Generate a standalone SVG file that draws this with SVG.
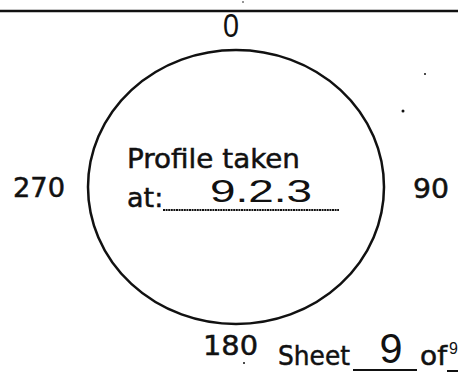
<svg xmlns="http://www.w3.org/2000/svg" width="458" height="378" viewBox="0 0 458 378">
<style>
.t{font-family:"DejaVu Sans",sans-serif;fill:#111;font-size:27px;stroke:#111;stroke-width:0.5}
.h{font-family:"Liberation Sans",sans-serif;fill:#111}
.ln{stroke:#111;fill:none}
</style>
<rect width="458" height="378" fill="#fff"/>
<g id="connectors">
<line class="ln" x1="0" y1="11" x2="458" y2="11" stroke-width="2.5"/>
<line class="ln" x1="163" y1="210" x2="339" y2="210" stroke-width="1.8" stroke-dasharray="2 0.6"/>
<line class="ln" x1="353" y1="370" x2="417" y2="370" stroke-width="2"/>
<line class="ln" x1="447" y1="371" x2="458" y2="371" stroke-width="2"/>
</g>
<g id="circle">
<ellipse class="ln" cx="236" cy="187" rx="148" ry="137" stroke-width="2.5"/>
</g>
<g id="label-0"><text class="h" x="231" y="37" font-size="33" text-anchor="middle" textLength="16" lengthAdjust="spacingAndGlyphs">0</text></g>
<g id="label-90"><text class="t" x="413" y="198" font-size="30" textLength="36" lengthAdjust="spacingAndGlyphs">90</text></g>
<g id="label-180"><text class="t" x="203" y="355" font-size="30" textLength="55" lengthAdjust="spacingAndGlyphs">180</text></g>
<g id="label-270"><text class="t" x="13" y="197" font-size="30" textLength="52" lengthAdjust="spacingAndGlyphs">270</text></g>
<g id="profile">
<text class="t" x="127" y="168" textLength="173" lengthAdjust="spacingAndGlyphs">Profile taken</text>
<text class="t" x="127" y="207">at:</text>
<text class="h" x="210" y="202" font-size="32" textLength="102" lengthAdjust="spacingAndGlyphs">9.2.3</text>
</g>
<g id="sheet">
<text class="t" x="278" y="365" font-size="30" textLength="72" lengthAdjust="spacingAndGlyphs">Sheet</text>
<text class="h" x="391" y="363" font-size="42" text-anchor="middle" textLength="23" lengthAdjust="spacingAndGlyphs">9</text>
<text class="t" x="420" y="365" font-size="30" textLength="27" lengthAdjust="spacingAndGlyphs">of</text>
<text class="h" x="449" y="354" font-size="16">9</text>
</g>
<circle cx="425" cy="74" r="1" fill="#111"/>
<circle cx="403" cy="111" r="1.5" fill="#111"/>
<circle cx="243" cy="2" r="0.8" fill="#111"/>
<circle cx="244" cy="363" r="1" fill="#111"/>
</svg>
